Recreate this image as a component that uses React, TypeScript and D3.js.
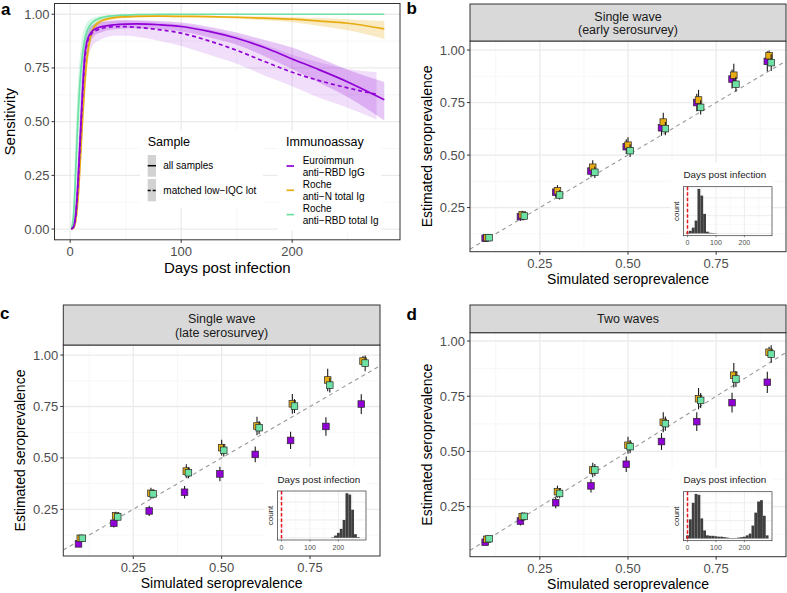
import React from 'react';
import * as d3 from 'd3';

const FONT = '"Liberation Sans", Arial, Helvetica, sans-serif';
const PURPLE = '#9000D6';
const ORANGE = '#E8AC12';
const GREEN = '#6DE2A4';

// ---------- Panel a: sensitivity curves ----------
const sensDays = [1, 3, 5, 7, 9, 11, 13, 15, 18, 21, 25, 30, 40, 50, 60, 80, 100, 125, 150, 175, 200, 225, 250, 283];
const matchedDays = [1, 3, 5, 7, 9, 11, 13, 15, 18, 21, 25, 30, 40, 50, 60, 80, 100, 125, 150, 175, 200, 225, 250, 276];

const euroAllMid = [0, 0.01, 0.07, 0.22, 0.42, 0.63, 0.8, 0.87, 0.91, 0.927, 0.937, 0.944, 0.951, 0.954, 0.955, 0.951, 0.943, 0.92, 0.888, 0.845, 0.792, 0.74, 0.685, 0.602];
const euroAllLo = [0, 0, 0.03, 0.13, 0.3, 0.5, 0.7, 0.8, 0.87, 0.895, 0.91, 0.92, 0.93, 0.934, 0.935, 0.93, 0.92, 0.893, 0.858, 0.805, 0.745, 0.68, 0.615, 0.505];
const euroAllHi = [0.01, 0.04, 0.14, 0.34, 0.56, 0.75, 0.88, 0.92, 0.94, 0.952, 0.96, 0.965, 0.97, 0.972, 0.972, 0.968, 0.962, 0.942, 0.915, 0.88, 0.845, 0.795, 0.742, 0.685];

const euroMatchedMid = [0, 0.01, 0.06, 0.2, 0.4, 0.61, 0.78, 0.86, 0.9, 0.918, 0.928, 0.936, 0.942, 0.942, 0.939, 0.928, 0.912, 0.876, 0.832, 0.78, 0.73, 0.69, 0.657, 0.627];
const euroMatchedLo = [0, 0, 0.02, 0.1, 0.26, 0.46, 0.64, 0.76, 0.83, 0.86, 0.875, 0.888, 0.9, 0.9, 0.895, 0.877, 0.852, 0.812, 0.77, 0.715, 0.665, 0.61, 0.565, 0.51];
const euroMatchedHi = [0.01, 0.04, 0.14, 0.33, 0.55, 0.74, 0.87, 0.92, 0.945, 0.955, 0.962, 0.967, 0.972, 0.972, 0.97, 0.962, 0.952, 0.93, 0.9, 0.858, 0.812, 0.775, 0.745, 0.73];

const rocheNMid = [0, 0.005, 0.04, 0.14, 0.31, 0.5, 0.67, 0.79, 0.89, 0.935, 0.96, 0.973, 0.984, 0.988, 0.99, 0.991, 0.99, 0.989, 0.986, 0.982, 0.977, 0.968, 0.958, 0.932];
const rocheNLo = [0, 0, 0.02, 0.09, 0.23, 0.41, 0.59, 0.73, 0.85, 0.91, 0.945, 0.963, 0.977, 0.983, 0.986, 0.987, 0.986, 0.984, 0.979, 0.972, 0.963, 0.945, 0.925, 0.885];
const rocheNHi = [0.005, 0.015, 0.07, 0.2, 0.39, 0.58, 0.74, 0.84, 0.92, 0.952, 0.972, 0.981, 0.989, 0.992, 0.994, 0.995, 0.994, 0.993, 0.991, 0.989, 0.986, 0.982, 0.977, 0.968];

const rocheRbdMid = [0, 0.06, 0.28, 0.52, 0.7, 0.81, 0.88, 0.92, 0.95, 0.966, 0.978, 0.986, 0.993, 0.996, 0.998, 0.999, 1, 1, 1, 1, 1, 1, 1, 1];
const rocheRbdLo = [0, 0.02, 0.15, 0.37, 0.57, 0.71, 0.8, 0.86, 0.91, 0.94, 0.96, 0.973, 0.986, 0.992, 0.995, 0.998, 0.999, 0.9995, 1, 1, 1, 1, 1, 1];
const rocheRbdHi = [0.02, 0.15, 0.45, 0.68, 0.82, 0.9, 0.94, 0.96, 0.975, 0.984, 0.99, 0.994, 0.997, 0.998, 0.999, 1, 1, 1, 1, 1, 1, 1, 1, 1];

const sensXTicks = [0, 100, 200];
const sensXMinor = [50, 150, 250];
const sensYTicks = [0, 0.25, 0.5, 0.75, 1];
const sensYMinor = [0.125, 0.375, 0.625, 0.875];

// ---------- Panels b-d: estimated vs simulated seroprevalence ----------
const simPrev = [0.1, 0.2, 0.3, 0.4, 0.5, 0.6, 0.7, 0.8, 0.9];

const earlyEuro = [0.104, 0.207, 0.323, 0.424, 0.54, 0.63, 0.75, 0.862, 0.946];
const earlyRocheN = [0.107, 0.215, 0.33, 0.442, 0.547, 0.657, 0.762, 0.88, 0.973];
const earlyRocheRbd = [0.107, 0.21, 0.31, 0.418, 0.521, 0.626, 0.727, 0.837, 0.94];

const lateEuro = [0.082, 0.182, 0.242, 0.333, 0.422, 0.517, 0.585, 0.653, 0.762];
const lateRocheN = [0.109, 0.218, 0.328, 0.436, 0.55, 0.655, 0.763, 0.879, 0.971];
const lateRocheRbd = [0.109, 0.213, 0.325, 0.428, 0.537, 0.647, 0.752, 0.854, 0.961];

const twoEuro = [0.089, 0.185, 0.268, 0.344, 0.442, 0.545, 0.635, 0.721, 0.813];
const twoRocheN = [0.102, 0.205, 0.318, 0.416, 0.528, 0.632, 0.739, 0.845, 0.949];
const twoRocheRbd = [0.105, 0.206, 0.31, 0.416, 0.522, 0.626, 0.731, 0.828, 0.941];

const errEuro = [0.012, 0.02, 0.025, 0.03, 0.035, 0.038, 0.042, 0.045, 0.048];
const errRocheN = [0.012, 0.02, 0.027, 0.033, 0.038, 0.045, 0.048, 0.055, 0.025];
const errRocheRbd = [0.01, 0.018, 0.022, 0.027, 0.03, 0.032, 0.034, 0.036, 0.04];

const prevTicks = [0.25, 0.5, 0.75];
const prevYTicks = [0.25, 0.5, 0.75, 1];
const prevMinor = [0.125, 0.375, 0.625, 0.875];

// ---------- Inset histograms (days post infection, bins centred every 10 days) ----------
const histBins = [0, 10, 20, 30, 40, 50, 60, 70, 80, 90, 100, 110, 120, 130, 140, 150, 160, 170, 180, 190, 200, 210, 220, 230, 240, 250, 260, 270, 280];
const histEarly = [2, 6, 13, 29, 100, 85, 44, 4, 1.5, 1, 0.5, 0, 0, 0, 0, 0, 0, 0, 0, 0, 0, 0, 0, 0, 0, 0, 0, 0, 0];
const histLate = [0, 0, 0, 0, 0, 0, 0, 0, 0, 0, 0, 0, 0, 0, 0, 0, 0, 0, 1, 5, 11, 20, 40, 100, 97, 63, 8, 1.5, 0];
const histTwo = [7, 43, 80, 100, 98, 45, 18, 7, 6, 6, 5, 4, 4, 3, 2, 1, 1, 1, 2, 3, 4, 7, 11, 29, 58, 83, 86, 51, 7];
const histTicks = [0, 100, 200];
const histMinor = [50, 150, 250];

const GRID = '#EBEBEB';
const GRID_MINOR = '#F3F3F3';
const BORDER = '#333333';
const TICK_TXT = '#4D4D4D';
const TICK_FS = 13;

function PanelA() {
  const L = 54.5, R = 400, T = 3.5, B = 239.8;
  const x = d3.scaleLinear().domain([-14.15, 297.15]).range([L, R]);
  const y = d3.scaleLinear().domain([-0.05, 1.05]).range([B, T]);
  const area = (xs: number[], lo: number[], hi: number[]) =>
    d3.area<number>().x((d) => x(d)).y0((_, i) => y(lo[i])).y1((_, i) => y(hi[i])).curve(d3.curveMonotoneX)(xs) || '';
  const line = (xs: number[], ys: number[]) =>
    d3.line<number>().x((d) => x(d)).y((_, i) => y(ys[i])).curve(d3.curveMonotoneX)(xs) || '';

  return (
    <g>
      <rect x={L} y={T} width={R - L} height={B - T} fill="white" />
      {sensXMinor.map((v) => <line key={'xm' + v} x1={x(v)} x2={x(v)} y1={T} y2={B} stroke={GRID_MINOR} strokeWidth={0.7} />)}
      {sensYMinor.map((v) => <line key={'ym' + v} x1={L} x2={R} y1={y(v)} y2={y(v)} stroke={GRID_MINOR} strokeWidth={0.7} />)}
      {sensXTicks.map((v) => <line key={'xg' + v} x1={x(v)} x2={x(v)} y1={T} y2={B} stroke={GRID} strokeWidth={1.3} />)}
      {sensYTicks.map((v) => <line key={'yg' + v} x1={L} x2={R} y1={y(v)} y2={y(v)} stroke={GRID} strokeWidth={1.3} />)}

      <path d={area(matchedDays, euroMatchedLo, euroMatchedHi)} fill={PURPLE} fillOpacity={0.13} />
      <path d={area(sensDays, euroAllLo, euroAllHi)} fill={PURPLE} fillOpacity={0.22} />
      <path d={area(sensDays, rocheNLo, rocheNHi)} fill={ORANGE} fillOpacity={0.25} />
      <path d={area(sensDays, rocheRbdLo, rocheRbdHi)} fill={GREEN} fillOpacity={0.28} />

      <path d={line(sensDays, rocheRbdMid)} fill="none" stroke={GREEN} strokeWidth={1.7} />
      <path d={line(sensDays, rocheNMid)} fill="none" stroke={ORANGE} strokeWidth={1.7} />
      <path d={line(sensDays, euroAllMid)} fill="none" stroke={PURPLE} strokeWidth={1.7} />
      <path d={line(matchedDays, euroMatchedMid)} fill="none" stroke={PURPLE} strokeWidth={1.7} strokeDasharray="4,3" />

      {/* legend */}
      <rect x={140} y={131} width={123} height={77} fill="white" />
      <rect x={278} y={131} width={103} height={99.5} fill="white" />
      <text x={147.7} y={146} fontSize={12.5} fontFamily={FONT} fill="#000">Sample</text>
      <rect x={147.7} y={155} width={8.3} height={21.7} fill="#D2D2D2" />
      <rect x={147.7} y={179} width={8.3} height={22.3} fill="#D2D2D2" />
      <line x1={147.7} x2={156} y1={165.7} y2={165.7} stroke="#000" strokeWidth={1.5} />
      <line x1={147.7} x2={156} y1={190.5} y2={190.5} stroke="#000" strokeWidth={1.5} strokeDasharray="3,2" />
      <text x={163.3} y={165.7} dy="0.35em" fontSize={10} fontFamily={FONT} fill="#000">all samples</text>
      <text x={163.3} y={190.5} dy="0.35em" fontSize={10} fontFamily={FONT} fill="#000">matched low−IQC lot</text>

      <text x={286} y={146} fontSize={12.5} fontFamily={FONT} fill="#000">Immunoassay</text>
      {[
        { c: PURPLE, y: 166, l1: 'Euroimmun', l2: 'anti−RBD IgG' },
        { c: ORANGE, y: 190.3, l1: 'Roche', l2: 'anti−N total Ig' },
        { c: GREEN, y: 214.6, l1: 'Roche', l2: 'anti−RBD total Ig' },
      ].map((k) => (
        <g key={k.l2}>
          <line x1={286.5} x2={294} y1={k.y} y2={k.y} stroke={k.c} strokeWidth={1.7} />
          <text x={302.7} y={k.y - 5.7} dy="0.35em" fontSize={10} fontFamily={FONT} fill="#000">{k.l1}</text>
          <text x={302.7} y={k.y + 6.3} dy="0.35em" fontSize={10} fontFamily={FONT} fill="#000">{k.l2}</text>
        </g>
      ))}

      <rect x={L} y={T} width={R - L} height={B - T} fill="none" stroke={BORDER} strokeWidth={1} />
      {sensYTicks.map((v) => (
        <g key={'yt' + v}>
          <line x1={L - 3} x2={L} y1={y(v)} y2={y(v)} stroke={BORDER} />
          <text x={L - 5} y={y(v)} dy="0.35em" textAnchor="end" fontSize={TICK_FS} fontFamily={FONT} fill={TICK_TXT}>{v.toFixed(2)}</text>
        </g>
      ))}
      {sensXTicks.map((v) => (
        <g key={'xt' + v}>
          <line x1={x(v)} x2={x(v)} y1={B} y2={B + 3} stroke={BORDER} />
          <text x={x(v)} y={B + 16} textAnchor="middle" fontSize={TICK_FS} fontFamily={FONT} fill={TICK_TXT}>{v}</text>
        </g>
      ))}
      <text x={(L + R) / 2} y={B + 33.5} textAnchor="middle" fontSize={15} fontFamily={FONT} fill="#000">Days post infection</text>
      <text transform={`translate(15,${(T + B) / 2}) rotate(-90)`} textAnchor="middle" fontSize={15} fontFamily={FONT} fill="#000">Sensitivity</text>
      <text x={1} y={15} fontSize={17} fontWeight="bold" fontFamily={FONT} fill="#000">a</text>
    </g>
  );
}

type ScatterProps = {
  L: number; R: number; T: number; B: number; stripTop: number;
  stripLines: string[]; yDomain: [number, number];
  euro: number[]; rocheN: number[]; rocheRbd: number[];
  hist: number[]; letter: string; letterX: number; letterY: number;
};

function Inset({ right, bottom, hist }: { right: number; bottom: number; hist: number[] }) {
  const w = 88.5, h = 49;
  const iL = right - w, iT = bottom - h;
  const x = d3.scaleLinear().domain([-14.15, 297.15]).range([iL, right]);
  const maxC = d3.max(hist) || 1;
  const y = d3.scaleLinear().domain([-0.05 * maxC, 1.05 * maxC]).range([bottom, iT]);
  const yMajor = [0, 0.4, 0.8].map((f) => f * maxC);
  const yMinor = [0.2, 0.6, 1.0].map((f) => f * maxC);
  return (
    <g>
      <rect x={iL - 13} y={iT - 24} width={w + 13.5} height={h + 38.5} fill="white" />
      <text x={iL} y={iT - 8.5} fontSize={9.8} fontFamily={FONT} fill="#1A1A1A">Days post infection</text>
      <rect x={iL} y={iT} width={w} height={h} fill="white" />
      {histMinor.map((v) => <line key={'hm' + v} x1={x(v)} x2={x(v)} y1={iT} y2={bottom} stroke={GRID_MINOR} strokeWidth={0.5} />)}
      {yMinor.map((v, i) => <line key={'hym' + i} x1={iL} x2={right} y1={y(v)} y2={y(v)} stroke={GRID_MINOR} strokeWidth={0.5} />)}
      {histTicks.map((v) => <line key={'hg' + v} x1={x(v)} x2={x(v)} y1={iT} y2={bottom} stroke={GRID} strokeWidth={0.9} />)}
      {yMajor.map((v, i) => <line key={'hyg' + i} x1={iL} x2={right} y1={y(v)} y2={y(v)} stroke={GRID} strokeWidth={0.9} />)}
      {histBins.map((b, i) =>
        hist[i] > 0 ? (
          <rect key={'bar' + b} x={x(b - 5)} width={x(b + 5) - x(b - 5)} y={y(hist[i])} height={y(0) - y(hist[i])} fill="#3F3F3F" />
        ) : null
      )}
      <line x1={x(0)} x2={x(0)} y1={iT} y2={bottom} stroke="#E8141C" strokeWidth={1.5} strokeDasharray="3.5,2" />
      <rect x={iL} y={iT} width={w} height={h} fill="none" stroke={BORDER} strokeWidth={0.7} />
      {histTicks.map((v) => (
        <g key={'ht' + v}>
          <line x1={x(v)} x2={x(v)} y1={bottom} y2={bottom + 1.5} stroke={BORDER} strokeWidth={0.6} />
          <text x={x(v)} y={bottom + 9.5} textAnchor="middle" fontSize={7} fontFamily={FONT} fill={TICK_TXT}>{v}</text>
        </g>
      ))}
      <text transform={`translate(${iL - 4.5},${iT + h / 2}) rotate(-90)`} textAnchor="middle" fontSize={8} fontFamily={FONT} fill="#1A1A1A">count</text>
    </g>
  );
}

function ScatterPanel(p: ScatterProps) {
  const { L, R, T, B } = p;
  const x = d3.scaleLinear().domain([0.052, 0.948]).range([L, R]);
  const y = d3.scaleLinear().domain(p.yDomain).range([B, T]);
  const series = [
    { vals: p.euro, err: errEuro, c: PURPLE, dx: -0.005 },
    { vals: p.rocheN, err: errRocheN, c: ORANGE, dx: 0 },
    { vals: p.rocheRbd, err: errRocheRbd, c: GREEN, dx: 0.006 },
  ];
  const sq = 6.6;
  const cy = (p.stripTop + T) / 2;
  return (
    <g>
      <rect x={L} y={T} width={R - L} height={B - T} fill="white" />
      {prevMinor.map((v) => <line key={'xm' + v} x1={x(v)} x2={x(v)} y1={T} y2={B} stroke={GRID_MINOR} strokeWidth={0.7} />)}
      {prevMinor.map((v) => <line key={'ym' + v} x1={L} x2={R} y1={y(v)} y2={y(v)} stroke={GRID_MINOR} strokeWidth={0.7} />)}
      {prevTicks.map((v) => <line key={'xg' + v} x1={x(v)} x2={x(v)} y1={T} y2={B} stroke={GRID} strokeWidth={1.3} />)}
      {prevYTicks.map((v) => <line key={'yg' + v} x1={L} x2={R} y1={y(v)} y2={y(v)} stroke={GRID} strokeWidth={1.3} />)}
      <line x1={x(0.052)} y1={y(0.052)} x2={x(0.948)} y2={y(0.948)} stroke="#9A9A9A" strokeWidth={1.1} strokeDasharray="4,3.5" />
      {series.map((s) =>
        simPrev.map((sp, i) => (
          <g key={s.c + i}>
            <line x1={x(sp + s.dx)} x2={x(sp + s.dx)} y1={y(Math.min(s.vals[i] + s.err[i], 0.998))} y2={y(s.vals[i] - s.err[i])} stroke="#1A1A1A" strokeWidth={1.1} />
            <rect x={x(sp + s.dx) - sq / 2} y={y(s.vals[i]) - sq / 2} width={sq} height={sq} fill={s.c} stroke="#2A2A2A" strokeWidth={0.7} />
          </g>
        ))
      )}
      <Inset right={R - 14} bottom={B - 16} hist={p.hist} />
      <rect x={L} y={T} width={R - L} height={B - T} fill="none" stroke={BORDER} strokeWidth={1} />
      <rect x={L} y={p.stripTop} width={R - L} height={T - p.stripTop} fill="#D9D9D9" stroke={BORDER} strokeWidth={1} />
      {p.stripLines.length === 1 ? (
        <text x={(L + R) / 2} y={cy + 4.5} textAnchor="middle" fontSize={12.5} fontFamily={FONT} fill="#1A1A1A">{p.stripLines[0]}</text>
      ) : (
        p.stripLines.map((s, i) => (
          <text key={s} x={(L + R) / 2} y={cy - 2 + i * 13.5} textAnchor="middle" fontSize={12.5} fontFamily={FONT} fill="#1A1A1A">{s}</text>
        ))
      )}
      {prevYTicks.map((v) => (
        <g key={'yt' + v}>
          <line x1={L - 3} x2={L} y1={y(v)} y2={y(v)} stroke={BORDER} />
          <text x={L - 5} y={y(v)} dy="0.35em" textAnchor="end" fontSize={TICK_FS} fontFamily={FONT} fill={TICK_TXT}>{v.toFixed(2)}</text>
        </g>
      ))}
      {prevTicks.map((v) => (
        <g key={'xt' + v}>
          <line x1={x(v)} x2={x(v)} y1={B} y2={B + 3} stroke={BORDER} />
          <text x={x(v)} y={B + 16} textAnchor="middle" fontSize={TICK_FS} fontFamily={FONT} fill={TICK_TXT}>{v.toFixed(2)}</text>
        </g>
      ))}
      <text x={(L + R) / 2} y={B + 32} textAnchor="middle" fontSize={14} fontFamily={FONT} fill="#000">Simulated seroprevalence</text>
      <text transform={`translate(${L - 38.5},${(T + B) / 2}) rotate(-90)`} textAnchor="middle" fontSize={14} fontFamily={FONT} fill="#000">Estimated seroprevalence</text>
      <text x={p.letterX} y={p.letterY} fontSize={17} fontWeight="bold" fontFamily={FONT} fill="#000">{p.letter}</text>
    </g>
  );
}

export default function App() {
  return (
    <svg width={787} height={593} viewBox="0 0 787 593" style={{ position: 'absolute', left: 0, top: 0, display: 'block', background: 'white' }}>
      <rect x={0} y={0} width={787} height={593} fill="white" />
      <PanelA />
      <ScatterPanel L={470} R={786} T={41} B={251.7} stripTop={4} stripLines={['Single wave', '(early serosurvey)']} yDomain={[0.04, 1.043]}
        euro={earlyEuro} rocheN={earlyRocheN} rocheRbd={earlyRocheRbd} hist={histEarly} letter="b" letterX={406.5} letterY={14} />
      <ScatterPanel L={63.3} R={380} T={345} B={556} stripTop={305} stripLines={['Single wave', '(late serosurvey)']} yDomain={[0.023, 1.049]}
        euro={lateEuro} rocheN={lateRocheN} rocheRbd={lateRocheRbd} hist={histLate} letter="c" letterX={0} letterY={319} />
      <ScatterPanel L={470} R={786} T={332.7} B={556.7} stripTop={305} stripLines={['Two waves']} yDomain={[0.0235, 1.0376]}
        euro={twoEuro} rocheN={twoRocheN} rocheRbd={twoRocheRbd} hist={histTwo} letter="d" letterX={406.5} letterY={320} />
    </svg>
  );
}
